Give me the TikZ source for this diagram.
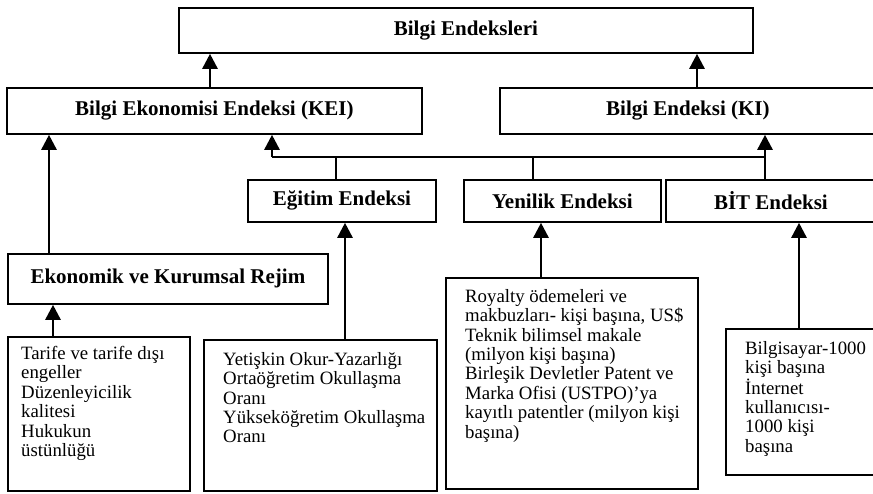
\documentclass[tikz,border=0pt]{standalone}
\usepackage{fontspec}
\setmainfont{Liberation Serif}
\usetikzlibrary{arrows.meta}
\begin{document}
\begin{tikzpicture}[x=1pt,y=-1pt,
  box/.style={draw,line width=1.8pt,anchor=north west,inner sep=0pt,
    font=\fontsize{21}{24}\selectfont\bfseries},
  listbox/.style={draw,line width=1.8pt,anchor=north west,inner sep=0pt},
  listtext/.style={anchor=north west,inner sep=0pt,align=left,
    font=\fontsize{18.8}{19.4}\selectfont},
  arr/.style={line width=2.6pt,-{Triangle[width=15pt,length=15pt]}},
  bus/.style={line width=2pt}]
\useasboundingbox (0,0) rectangle (873,493);

% title boxes
\node[box,minimum width=574pt,minimum height=45pt] (top) at (178,7) {Bilgi Endeksleri};
\node[box,minimum width=415pt,minimum height=46pt] (kei) at (6,87) {Bilgi Ekonomisi Endeksi (KEI)};
\node[box,minimum width=376pt,minimum height=46pt] (ki) at (499,87) {Bilgi Endeksi (KI)};
\node[box,minimum width=188pt,minimum height=42pt] (egt) at (247,179) {Eğitim Endeksi};
\node[box,minimum width=197pt,minimum height=42pt] (yen) at (463,179) {Yenilik Endeksi};
\node[box,minimum width=210pt,minimum height=42pt] (bit) at (665,179) {BİT Endeksi};
\node[box,minimum width=320pt,minimum height=50pt] (eko) at (7,253) {Ekonomik ve Kurumsal Rejim};

% list boxes
\node[listbox,minimum width=182pt,minimum height=154pt] (l1) at (7,336) {};
\node[listbox,minimum width=233pt,minimum height=151pt] (l2) at (203,339) {};
\node[listbox,minimum width=252pt,minimum height=211pt] (l3) at (445,277) {};
\node[listbox,minimum width=150pt,minimum height=146pt] (l4) at (725,328) {};

\node[listtext] (t1) at (21,346) {Tarife ve tarife dışı\\engeller\\Düzenleyicilik\\kalitesi\\Hukukun\\üstünlüğü};
\node[listtext] (t2) at (223,352) {Yetişkin Okur-Yazarlığı\\Ortaöğretim Okullaşma\\Oranı\\Yükseköğretim Okullaşma\\Oranı};
\node[listtext] (t3) at (465,289) {Royalty ödemeleri ve\\makbuzları- kişi başına, US\$\\Teknik bilimsel makale\\(milyon kişi başına)\\Birleşik Devletler Patent ve\\Marka Ofisi (USTPO)’ya\\kayıtlı patentler (milyon kişi\\başına)};
\node[listtext] (t4) at (745,341) {Bilgisayar-1000\\kişi başına\\İnternet\\kullanıcısı-\\1000 kişi\\başına};

% x positions of connectors
\coordinate (xa) at (210,0);
\coordinate (xb) at (697,0);
\coordinate (busL) at (272,157);
\coordinate (busR) at (765,157);
\coordinate (xe) at (336,0);
\coordinate (xy) at (533,0);
\coordinate (xk) at (49,0);
\coordinate (xt) at (53,0);
\coordinate (xl2) at (345,0);
\coordinate (xl3) at (541,0);
\coordinate (xl4) at (799,0);

% connectors
\draw[arr] (kei.north -| xa) -- (top.south -| xa);
\draw[arr] (ki.north -| xb) -- (top.south -| xb);
\draw[bus] (busL) -- (busR);
\draw[arr] (busL) -- (kei.south -| busL);
\draw[arr] (busR) -- (ki.south -| busR);
\draw[bus] (egt.north -| xe) -- (busL -| xe);
\draw[bus] (yen.north -| xy) -- (busL -| xy);
\draw[bus] (bit.north -| busR) -- (busR);
\draw[arr] (eko.north -| xk) -- (kei.south -| xk);
\draw[arr] (l1.north -| xt) -- (eko.south -| xt);
\draw[arr] (l2.north -| xl2) -- (egt.south -| xl2);
\draw[arr] (l3.north -| xl3) -- (yen.south -| xl3);
\draw[arr] (l4.north -| xl4) -- (bit.south -| xl4);
\end{tikzpicture}
\end{document}
